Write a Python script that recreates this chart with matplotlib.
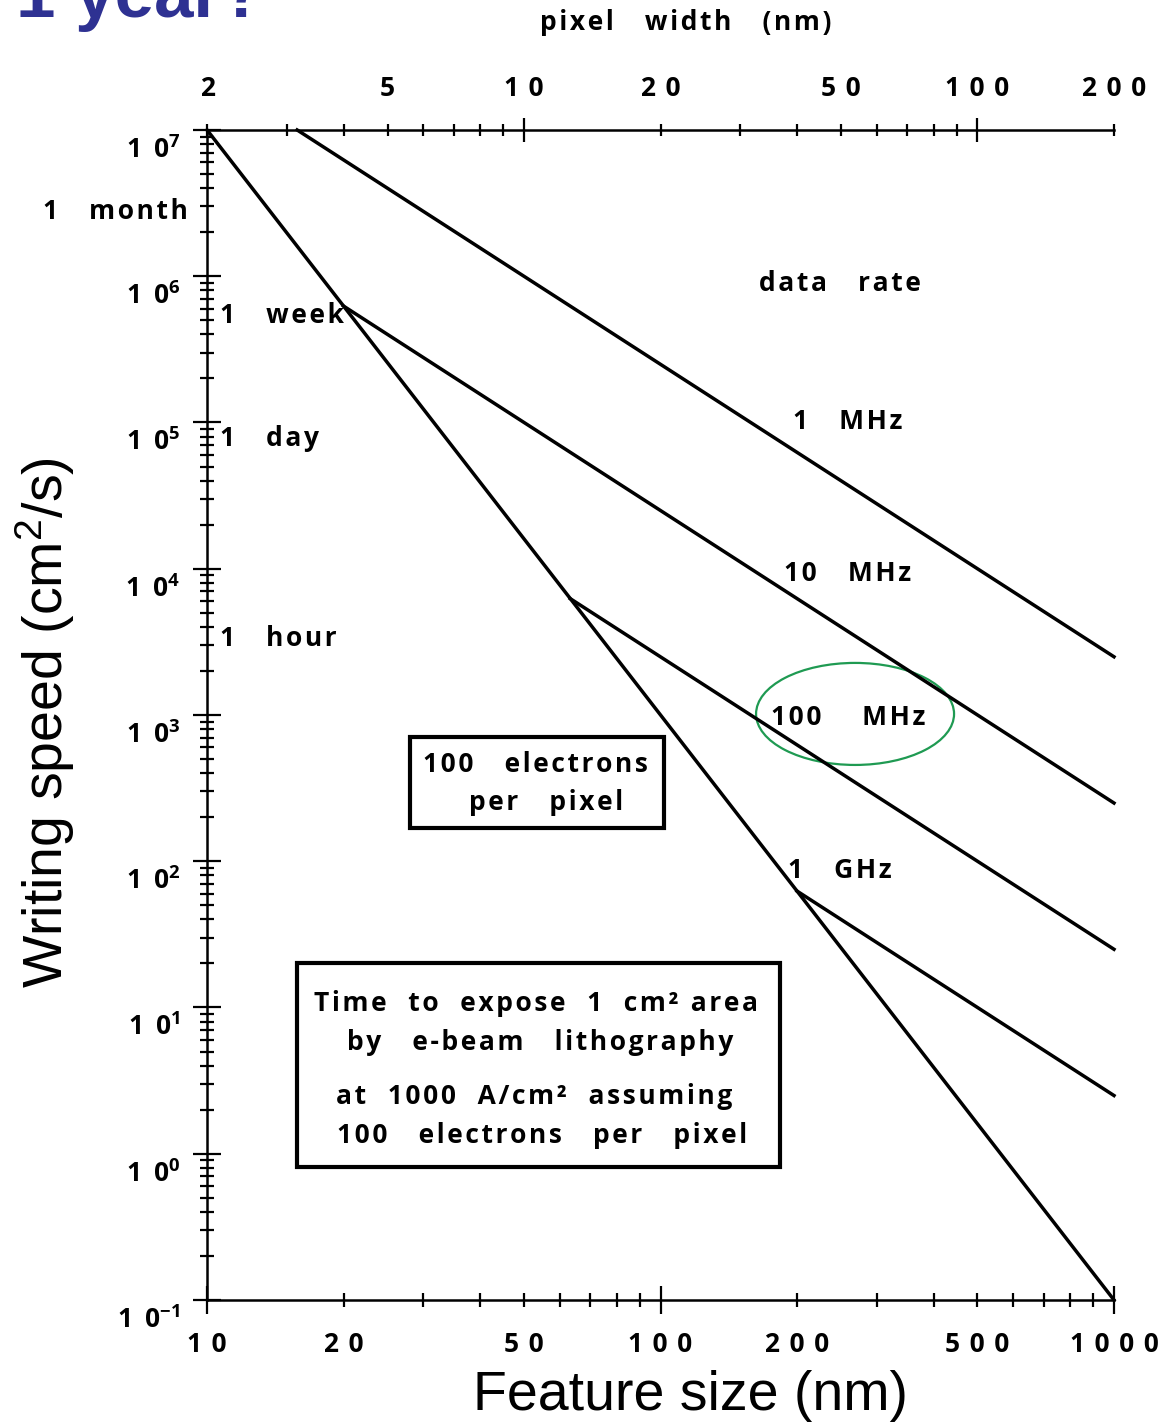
import matplotlib
matplotlib.use("Agg")
import matplotlib.pyplot as plt
import matplotlib.transforms as mtransforms
from matplotlib.patches import Rectangle, Ellipse
from matplotlib.ticker import FixedLocator, FuncFormatter, NullFormatter

plt.rcParams["font.family"] = ["Open Sans", "DejaVu Sans"]
plt.rcParams["mathtext.default"] = "regular"

# exposure-time lines (feature size in nm, time in s)
limit_x = [10, 1000]
limit_y = [1e7, 1e-1]

rate_labels = ["1   MHz", "10   MHz", "100    MHz", "1   GHz"]
rate_x0 = [15.8, 20.0, 63.2, 200.0]
rate_y0 = [1.0e7, 6.25e5, 6.25e3, 62.5]
rate_x1 = [1000, 1000, 1000, 1000]
rate_y1 = [2500, 250, 25, 2.5]
rate_label_x = [259, 259, 259, 249]
rate_label_y = [1.06e5, 9.8e3, 1.0e3, 90]

# reference times and where their labels sit
time_labels = ["1   month", "1   week", "1   day", "1   hour"]
time_label_y = [2.75e6, 5.35e5, 7.83e4, 3357]

# tick values and labels
x_major = [10, 100, 1000]
x_minor = [20, 30, 40, 50, 60, 70, 80, 90, 200, 300, 400, 500, 600, 700, 800, 900]
x_labels = {10: "1 0", 20: "2 0", 50: "5 0", 100: "1 0 0", 200: "2 0 0",
            500: "5 0 0", 1000: "1 0 0 0"}
px_major = [10, 100]
px_minor = [2, 3, 4, 5, 6, 7, 8, 9, 20, 30, 40, 50, 60, 70, 80, 90, 200]
px_labels = {2: "2", 5: "5", 10: "1 0", 20: "2 0", 50: "5 0", 100: "1 0 0", 200: "2 0 0"}
y_exponents = [-1, 0, 1, 2, 3, 4, 5, 6, 7]

TXT = 19
WT = "bold"
INK = "black"
LW = 2.5


def track(s):
    # loose letter spacing
    return "\u200a".join(s)


def digits(s):
    # tick numbers: one hair space ahead of each gap
    return s.replace(" ", "\u200a ")


fig = plt.figure(figsize=(11.58, 14.22), dpi=100)
ax = fig.add_axes([0.1788, 0.0858, 0.7832, 0.8228])
ax.set_xscale("log")
ax.set_yscale("log")
ax.set_xlim(10, 1000)
ax.set_ylim(1e-1, 1e7)

ax.plot(limit_x, limit_y, color=INK, lw=LW, clip_on=False)
for x0, y0, x1, y1 in zip(rate_x0, rate_y0, rate_x1, rate_y1):
    ax.plot([x0, x1], [y0, y1], color=INK, lw=LW, clip_on=False)

lab_tr = mtransforms.offset_copy(ax.transData, fig=fig, y=-3, units="dots")
for s, x, y in zip(rate_labels, rate_label_x, rate_label_y):
    ax.text(x, y, track(s), transform=lab_tr, ha="center", va="center",
            fontsize=TXT, fontweight=WT)
ax.text(249, 9.4e5, track("data   rate"), transform=lab_tr, ha="center",
        va="center", fontsize=TXT, fontweight=WT)

# time markers next to the y axis
ax.text(9.08, time_label_y[0], track(time_labels[0]), ha="right", va="center",
        fontsize=TXT, fontweight=WT, clip_on=False)
for s, v in zip(time_labels[1:], time_label_y[1:]):
    ax.text(10.68, v, track(s), ha="left", va="center", fontsize=TXT, fontweight=WT)

# spines and ticks
for side in ["right", "top"]:
    ax.spines[side].set_visible(False)
ax.spines["left"].set_linewidth(1.8)
ax.spines["bottom"].set_linewidth(1.8)

ax.xaxis.set_major_locator(FixedLocator(x_major))
ax.xaxis.set_minor_locator(FixedLocator(x_minor))
fmt_x = FuncFormatter(lambda v, pos: digits(x_labels.get(int(round(v)), "")))
ax.xaxis.set_major_formatter(fmt_x)
ax.xaxis.set_minor_formatter(fmt_x)

ax.yaxis.set_major_locator(FixedLocator([10.0 ** e for e in y_exponents]))
ax.yaxis.set_minor_locator(FixedLocator(
    [m * 10.0 ** e for e in y_exponents[:-1] for m in range(2, 10)]))
ax.yaxis.set_major_formatter(NullFormatter())
ax.yaxis.set_minor_formatter(NullFormatter())

ax.tick_params(which="major", direction="inout", length=20, width=1.6,
               labelsize=TXT, pad=12)
ax.tick_params(which="minor", direction="inout", length=10, width=1.6,
               labelsize=TXT, pad=17)
for lab in ax.get_xticklabels(which="both"):
    lab.set_fontweight(WT)

# y tick labels sit a little below their ticks
ylab_tr = mtransforms.offset_copy(ax.get_yaxis_transform(), fig=fig,
                                  x=-27, y=-20, units="dots")
for e in y_exponents:
    ax.text(0, 10.0 ** e, "1\u200a \u200a0$^{%d}$" % e, transform=ylab_tr,
            ha="right", va="center", fontsize=TXT, fontweight=WT)

# pixel width = feature size / 5
top = ax.secondary_xaxis("top", functions=(lambda x: x / 5, lambda p: p * 5))
top.xaxis.set_major_locator(FixedLocator(px_major))
top.xaxis.set_minor_locator(FixedLocator(px_minor))
fmt_p = FuncFormatter(lambda v, pos: digits(px_labels.get(int(round(v)), "")))
top.xaxis.set_major_formatter(fmt_p)
top.xaxis.set_minor_formatter(fmt_p)
top.spines["top"].set_linewidth(1.8)
top.tick_params(which="major", direction="inout", length=17, width=1.6,
                labelsize=TXT, pad=11.5)
top.tick_params(which="minor", direction="inout", length=9, width=1.6,
                labelsize=TXT, pad=15.5)
for lab in top.get_xticklabels(which="both"):
    lab.set_fontweight(WT)

# boxed notes
ax.add_patch(Rectangle((0.2238, 0.4034), 0.2801, 0.0778, transform=ax.transAxes,
                       fill=False, lw=3, ec=INK))
ax.text(0.3616, 0.4581, track("100   electrons"), transform=ax.transAxes,
        ha="center", va="center", fontsize=TXT, fontweight=WT)
ax.text(0.3736, 0.4256, track("per   pixel"), transform=ax.transAxes, ha="center",
        va="center", fontsize=TXT, fontweight=WT)

ax.add_patch(Rectangle((0.0992, 0.1137), 0.5326, 0.1743, transform=ax.transAxes,
                       fill=False, lw=3, ec=INK))
note_lines = ["Time  to  expose  1  cm² area",
              "by   e-beam   lithography",
              "at  1000  A/cm²  assuming",
              "100   electrons   per   pixel"]
note_x = [0.3627, 0.3671, 0.3605, 0.3693]
note_y = [0.2530, 0.2205, 0.1735, 0.1410]
for s, x, y in zip(note_lines, note_x, note_y):
    ax.text(x, y, track(s), transform=ax.transAxes, ha="center", va="center",
            fontsize=TXT, fontweight=WT)

ax.add_patch(Ellipse((0.7145, 0.5009), 0.2183, 0.0872, transform=ax.transAxes,
                     fill=False, lw=1.6, ec="#1f9a52"))

fig.text(0.5924, 0.9845, track("pixel   width   (nm)"), ha="center", va="center",
         fontsize=TXT, fontweight=WT)
fig.text(0.5967, 0.0085, "Feature size (nm)", ha="center", va="baseline",
         fontsize=40, family=["Liberation Sans", "DejaVu Sans"])
fig.text(0.0389, 0.4916, "Writing speed (cm$^{2}$/s)", ha="center", va="center",
         rotation=90, fontsize=40, family=["Liberation Sans", "DejaVu Sans"])
fig.text(0.014, 0.988, "1 year?", ha="left", va="baseline", fontsize=51,
         fontweight="bold", color="#2e3192", family=["Liberation Sans", "DejaVu Sans"])

fig.savefig("out.png", dpi=100)
